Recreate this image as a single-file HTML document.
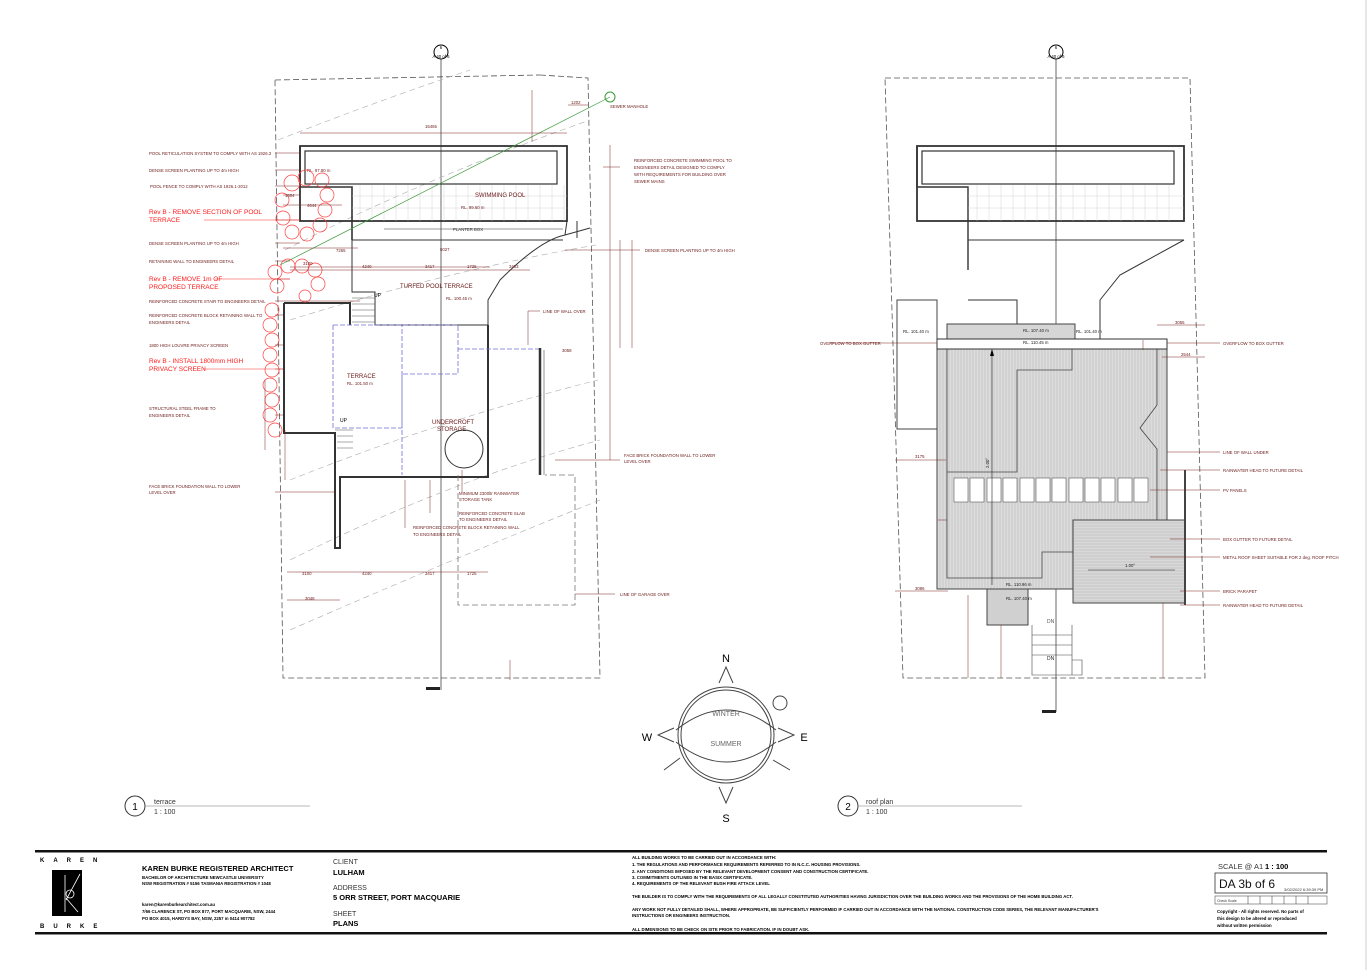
<!DOCTYPE html>
<html><head><meta charset="utf-8"><style>
html,body{margin:0;padding:0;background:#fff}
svg{display:block;font-family:"Liberation Sans",Arial,sans-serif}
.l{font-size:4.3px;fill:#6b1a1a}
.r{font-size:6.5px;fill:#ff1a1a}
.d{font-size:4.3px;fill:#6b1a1a}
.b{font-weight:bold;fill:#000}
</style></head><body>
<svg width="1372" height="970" viewBox="0 0 1372 970" xmlns="http://www.w3.org/2000/svg">
<defs>
 <pattern id="vh" width="3" height="6" patternUnits="userSpaceOnUse"><rect width="3" height="6" fill="#dcdcdc"/><line x1="1" y1="0" x2="1" y2="6" stroke="#bdbdbd" stroke-width="0.6"/></pattern>
 <pattern id="hh" width="6" height="3" patternUnits="userSpaceOnUse"><rect width="6" height="3" fill="#d8d8d8"/><line x1="0" y1="1" x2="6" y2="1" stroke="#bbb" stroke-width="0.6"/></pattern>
</defs>
<rect width="1372" height="970" fill="#fff"/>
<line x1="1366" y1="0" x2="1366" y2="970" stroke="#ccc"/>

<!-- ===== LEFT PLAN ===== -->
<g fill="none" stroke="#555" stroke-width="0.8">
 <polyline points="275,80 540,75" stroke-dasharray="6,3"/>
 <polyline points="540,75 588,78 600,678 283,678 275,80" stroke-dasharray="6,3"/>
</g>
<line x1="441" y1="45" x2="441" y2="690" stroke="#444" stroke-width="0.8"/>
<rect x="426" y="687" width="14" height="3" fill="#222"/>
<circle cx="441" cy="52" r="7" fill="#fff" stroke="#000"/>
<text x="441" y="49" class="d" text-anchor="middle" style="fill:#000">6</text>
<text x="441" y="58" class="d" text-anchor="middle" style="fill:#000">A 40 of 6</text>
<g fill="none" stroke="#aaa" stroke-width="0.6" stroke-dasharray="6,4">
 <path d="M278,140 Q380,100 470,70"/><path d="M285,250 Q420,180 590,120"/>
 <path d="M290,320 Q450,270 596,245"/><path d="M290,480 Q440,420 598,380"/>
 <path d="M290,560 Q450,480 600,440"/><path d="M290,630 Q450,560 600,500"/>
</g>
<g stroke="#333" fill="none">
 <rect x="300" y="146" width="267" height="75" stroke-width="1.8"/>
 <rect x="305" y="151" width="252" height="33" stroke-width="1.2"/>
 <path d="M300,146 V187 H352 V240" stroke-width="1.6"/>
</g>
<g stroke="#ccc" stroke-width="0.4">
 <path d="M360,185V221M372,185V221M384,185V221M396,185V221M408,185V221M420,185V221M432,185V221M444,185V221M456,185V221M468,185V221M480,185V221M492,185V221M504,185V221M516,185V221M528,185V221M540,185V221M552,185V221M564,185V221"/>
 <path d="M352,196H567M352,208H567"/>
</g>
<text x="475" y="197" class="d" style="font-size:6px">SWIMMING POOL</text>
<text x="461" y="209" class="d">RL. 99.60 m</text>
<text x="307" y="172" class="d">RL. 97.80 m</text>
<line x1="384" y1="229" x2="563" y2="229" stroke="#333" stroke-width="0.6"/>
<text x="453" y="231" class="d" style="fill:#333">PLANTER BOX</text>
<g stroke="#333" fill="none" stroke-width="1">
 <path d="M352,240 V292 H375 V325 H488 V300 L500,280 Q540,240 565,235 L567,221 M577,221 V238 M565,235 L590,228"/>
 <path d="M352,240 H563"/>
 <path d="M284,303 H350 V325 M284,303 V433 H335 V548 H340 V477 H488 V325" stroke-width="2"/>
 <path d="M488,325 V477"/>
</g>
<g stroke="#555" stroke-width="0.5"><path d="M352,298H375M352,304H375M352,310H375M352,316H375M352,322H375M335,430H353M337,436H353M337,442H353M337,448H353"/></g>
<text x="400" y="288" class="d" style="font-size:6px">TURFED POOL TERRACE</text>
<text x="446" y="300" class="d">RL. 100.45 m</text>
<text x="374" y="297" class="d" style="fill:#000;font-size:5px">UP</text>
<text x="340" y="422" class="d" style="fill:#000;font-size:5px">UP</text>
<text x="347" y="378" class="d" style="font-size:6px">TERRACE</text>
<text x="347" y="385" class="d">RL. 101.50 m</text>
<text x="432" y="424" class="d" style="font-size:6px">UNDERCROFT</text>
<text x="437" y="431" class="d" style="font-size:6px">STORAGE</text>
<circle cx="464" cy="449" r="19" fill="none" stroke="#333"/>
<g fill="none" stroke="#6c6cd8" stroke-width="0.8" stroke-dasharray="5,2">
 <path d="M333,325 H458 V374 H402 M333,325 V428 H402 V325 M458,349 H540 M402,374 V475"/>
</g>
<path d="M540,348 V475" stroke="#333" stroke-width="2.5"/>
<path d="M544,350 V475" stroke="#777" stroke-width="0.8"/>
<path d="M458,475 V605 H575 V475 H545" fill="none" stroke="#777" stroke-dasharray="6,3" stroke-width="0.8"/>
<line x1="280" y1="265" x2="610" y2="97" stroke="#3a9a3a" stroke-width="0.7"/>
<circle cx="610" cy="97" r="5" fill="none" stroke="#3a9a3a"/>
<text x="610" y="108" class="l">SEWER MANHOLE</text>
<!-- hedge bubbles -->
<g fill="none" stroke="#ff4040" stroke-width="0.7">
 <circle cx="292" cy="183" r="8"/><circle cx="306" cy="178" r="8"/><circle cx="322" cy="180" r="7"/><circle cx="327" cy="195" r="7"/><circle cx="325" cy="210" r="7"/><circle cx="320" cy="225" r="7"/><circle cx="307" cy="234" r="7"/><circle cx="292" cy="232" r="7"/><circle cx="283" cy="218" r="7"/><circle cx="282" cy="200" r="7"/>
 <circle cx="275" cy="272" r="7"/><circle cx="288" cy="266" r="7"/><circle cx="302" cy="266" r="7"/><circle cx="315" cy="270" r="7"/><circle cx="318" cy="284" r="7"/><circle cx="305" cy="296" r="6"/><circle cx="277" cy="286" r="7"/>
 <circle cx="272" cy="310" r="7"/><circle cx="270" cy="325" r="7"/><circle cx="272" cy="340" r="7"/><circle cx="270" cy="355" r="7"/><circle cx="272" cy="370" r="7"/><circle cx="270" cy="385" r="7"/><circle cx="272" cy="400" r="7"/><circle cx="270" cy="415" r="7"/><circle cx="275" cy="430" r="7"/>
</g>
<g stroke="#7a2424" stroke-width="0.5" fill="none">
 <path d="M300,133H567M290,267H490M290,270H530M283,248H358M283,205H342M283,195H300M610,145V460M620,240V348M632,240V348M287,572H488M287,600H340M532,90V142M568,105H588M510,660V680M285,430V480M265,380V450"/>
 <path d="M275,153H300M275,170H300M275,186H300M275,220H300M275,243H300M275,261H290M275,279H290M275,301H360M275,315H283M275,345H283M275,369H283M275,415H283M275,492H335M603,167H620M565,250H640M528,311V345M528,311H540M405,480V528M462,470V493M430,480V513M575,594H615M555,460H620"/>
</g>
<g class="d">
 <text x="425" y="128">15465</text><text x="303" y="265">3100</text><text x="362" y="268">4240</text><text x="425" y="268">3417</text><text x="467" y="268">1725</text><text x="509" y="268">3463</text>
 <text x="336" y="252">7265</text><text x="440" y="251">5027</text><text x="307" y="207">4644</text><text x="285" y="197">1504</text>
 <text x="302" y="575">3100</text><text x="362" y="575">4240</text><text x="425" y="575">3417</text><text x="467" y="575">1725</text><text x="305" y="600">3048</text><text x="562" y="352">3058</text><text x="571" y="104">1202</text>
</g>
<g class="l">
 <text x="149" y="155">POOL RETICULATION SYSTEM TO COMPLY WITH AS 1926.3</text>
 <text x="149" y="172">DENSE SCREEN PLANTING UP TO 4m HIGH</text>
 <text x="150" y="188">POOL FENCE TO COMPLY WITH AS 1926.1-2012</text>
 <text x="149" y="245">DENSE SCREEN PLANTING UP TO 4m HIGH</text>
 <text x="149" y="263">RETAINING WALL TO ENGINEERS DETAIL</text>
 <text x="149" y="303">REINFORCED CONCRETE STAIR TO ENGINEERS DETAIL</text>
 <text x="149" y="317">REINFORCED CONCRETE BLOCK RETAINING WALL TO</text>
 <text x="149" y="324">ENGINEERS DETAIL</text>
 <text x="149" y="347">1800 HIGH LOUVRE PRIVACY SCREEN</text>
 <text x="149" y="410">STRUCTURAL STEEL FRAME TO</text>
 <text x="149" y="417">ENGINEERS DETAIL</text>
 <text x="149" y="488">FACE BRICK FOUNDATION WALL TO LOWER</text>
 <text x="149" y="494">LEVEL OVER</text>
 <text x="634" y="162">REINFORCED CONCRETE SWIMMING POOL TO</text>
 <text x="634" y="169">ENGINEERS DETAIL DESIGNED TO COMPLY</text>
 <text x="634" y="176">WITH REQUIREMENTS FOR BUILDING OVER</text>
 <text x="634" y="183">SEWER MAINS</text>
 <text x="645" y="252">DENSE SCREEN PLANTING UP TO 4m HIGH</text>
 <text x="543" y="313">LINE OF WALL OVER</text>
 <text x="624" y="457">FACE BRICK FOUNDATION WALL TO LOWER</text>
 <text x="624" y="463">LEVEL OVER</text>
 <text x="459" y="495">MINIMUM 2300ltr RAINWATER</text>
 <text x="459" y="501">STORAGE TANK</text>
 <text x="459" y="515">REINFORCED CONCRETE SLAB</text>
 <text x="459" y="521">TO ENGINEERS DETAIL</text>
 <text x="413" y="529">REINFORCED CONCRETE BLOCK RETAINING WALL</text>
 <text x="413" y="536">TO ENGINEERS DETAIL</text>
 <text x="620" y="596">LINE OF GARAGE OVER</text>
</g>
<g class="r">
 <text x="149" y="214">Rev B - REMOVE SECTION OF POOL</text>
 <text x="149" y="222">TERRACE</text>
 <text x="149" y="281">Rev B - REMOVE 1m  OF</text>
 <text x="149" y="289">PROPOSED TERRACE</text>
 <text x="149" y="363">Rev B - INSTALL 1800mm HIGH</text>
 <text x="149" y="371">PRIVACY SCREEN</text>
</g>
<g stroke="#ff3030" stroke-width="0.6"><path d="M204,220H300M215,279H290M203,369H283"/></g>

<!-- ===== RIGHT PLAN ===== -->
<g fill="none" stroke="#555" stroke-width="0.8" stroke-dasharray="6,3">
 <polyline points="885,78 1190,78 1205,678 903,678 885,78"/>
</g>
<line x1="1056" y1="45" x2="1056" y2="712" stroke="#444" stroke-width="0.8"/>
<rect x="1042" y="710" width="14" height="3" fill="#222"/>
<circle cx="1056" cy="52" r="7" fill="#fff" stroke="#000"/>
<text x="1056" y="49" class="d" text-anchor="middle" style="fill:#000">6</text>
<text x="1056" y="58" class="d" text-anchor="middle" style="fill:#000">A 40 of 6</text>
<g stroke="#333" fill="none">
 <rect x="917" y="146" width="267" height="75" stroke-width="1.8"/>
 <rect x="922" y="151" width="252" height="33" stroke-width="1.2"/>
 <path d="M917,146 V187 H968 V270" stroke-width="1.4"/>
 <path d="M968,240 H1184 M1100,300 L1120,275 L1184,240 M1100,300 V345"/>
 <path d="M968,300 H1017 V324"/>
</g>
<g stroke="#ccc" stroke-width="0.4">
 <path d="M977,185V221M989,185V221M1001,185V221M1013,185V221M1025,185V221M1037,185V221M1049,185V221M1061,185V221M1073,185V221M1085,185V221M1097,185V221M1109,185V221M1121,185V221M1133,185V221M1145,185V221M1157,185V221M1169,185V221"/>
 <path d="M968,196H1184M968,208H1184"/>
</g>
<rect x="897" y="300" width="40" height="129" fill="#fff" stroke="#444"/>
<rect x="947" y="324" width="128" height="15" fill="#d6d6d6" stroke="#444"/>
<rect x="937" y="339" width="230" height="250" fill="url(#vh)" stroke="#444"/>
<rect x="1073" y="520" width="112" height="83" fill="url(#hh)" stroke="#444"/>
<rect x="937" y="339" width="230" height="10" fill="#fff" stroke="#333"/>
<rect x="987" y="589" width="41" height="36" fill="#d0d0d0" stroke="#444"/>
<path d="M947,349 V578 H1042 V552 H1073 V520 H1157 V449 L1140,428 L1157,405 V349 M1072,349 V370 H1017 V472 H947" fill="none" stroke="#444" stroke-width="0.8"/>
<path d="M1185,470 V605" stroke="#444" stroke-width="2"/>
<g fill="#fff" stroke="#555" stroke-width="0.6">
 <rect x="954" y="478" width="14" height="24"/><rect x="970" y="478" width="14" height="24"/><rect x="987" y="478" width="14" height="24"/><rect x="1003" y="478" width="14" height="24"/><rect x="1020" y="478" width="14" height="24"/><rect x="1036" y="478" width="14" height="24"/><rect x="1052" y="478" width="14" height="24"/><rect x="1069" y="478" width="14" height="24"/><rect x="1085" y="478" width="14" height="24"/><rect x="1101" y="478" width="14" height="24"/><rect x="1118" y="478" width="14" height="24"/><rect x="1134" y="478" width="14" height="24"/>
</g>
<line x1="992" y1="585" x2="992" y2="350" stroke="#222" stroke-width="0.6"/>
<path d="M990,356 L992,349 L994,356z"/>
<text x="989" y="468" class="d" style="fill:#222" transform="rotate(-90 989 468)">2.00°</text>
<line x1="1088" y1="570" x2="1175" y2="570" stroke="#222" stroke-width="0.6"/>
<text x="1125" y="567" class="d" style="fill:#222">1.00°</text>
<text x="1023" y="332" class="d" style="fill:#222">RL. 107.40 m</text>
<text x="1023" y="344" class="d" style="fill:#222">RL. 110.45 m</text>
<text x="903" y="333" class="d" style="fill:#222">RL. 101.40 m</text>
<text x="1076" y="333" class="d" style="fill:#222">RL. 101.40 m</text>
<text x="1006" y="586" class="d" style="fill:#222">RL. 110.96 m</text>
<text x="1006" y="600" class="d" style="fill:#222">RL. 107.40 m</text>
<text x="1047" y="623" class="d" style="fill:#555;font-size:5px">DN</text>
<text x="1047" y="660" class="d" style="fill:#222;font-size:5px">DN</text>
<g stroke="#444" fill="none" stroke-width="0.6"><path d="M1032,625 V675 H1072 V625 M1032,635H1072M1032,645H1072M1032,655H1072M1072,660H1082V675H1072"/></g>
<g stroke="#7a2424" stroke-width="0.5" fill="none">
 <path d="M895,460H946M895,591H948M1157,325H1205M1162,357H1205M968,595V678M1001,625V678M1163,603V678M938,520H947M1143,340V350"/>
 <path d="M830,343H937M1167,343H1220M1167,452H1220M1160,470H1220M1150,490H1220M1170,539H1220M1150,557H1220M1180,591H1220M1180,605H1220"/>
</g>
<g class="d"><text x="915" y="458">3175</text><text x="915" y="590">3086</text><text x="1175" y="324">3055</text><text x="1181" y="356">2544</text></g>
<g class="l">
 <text x="820" y="345">OVERFLOW TO BOX GUTTER</text>
 <text x="1223" y="345">OVERFLOW TO BOX GUTTER</text>
 <text x="1223" y="454">LINE OF WALL UNDER</text>
 <text x="1223" y="472">RAINWATER HEAD TO FUTURE DETAIL</text>
 <text x="1223" y="492">PV PANELS</text>
 <text x="1223" y="541">BOX GUTTER TO FUTURE DETAIL</text>
 <text x="1223" y="559">METAL ROOF SHEET SUITABLE FOR 2 deg. ROOF PITCH</text>
 <text x="1223" y="593">BRICK PARAPET</text>
 <text x="1223" y="607">RAINWATER HEAD TO FUTURE DETAIL</text>
</g>

<!-- compass -->
<g fill="none" stroke="#444" stroke-width="1">
 <circle cx="726" cy="735" r="48"/><circle cx="726" cy="735" r="45"/>
 <path d="M676,730 Q726,690 776,730 M676,742 Q726,782 776,742"/>
 <path d="M719,683 L726,667 L733,683 M719,787 L726,803 L733,787 M674,728 L658,735 L674,742 M778,728 L794,735 L778,742"/>
 <circle cx="780" cy="703" r="7"/><path d="M773,760 L790,770 M664,770 L680,758"/>
</g>
<text x="726" y="662" text-anchor="middle" style="font-size:11px">N</text>
<text x="726" y="822" text-anchor="middle" style="font-size:11px">S</text>
<text x="647" y="741" text-anchor="middle" style="font-size:11px">W</text>
<text x="804" y="741" text-anchor="middle" style="font-size:11px">E</text>
<text x="726" y="716" text-anchor="middle" style="font-size:7px;fill:#666">WINTER</text>
<text x="726" y="746" text-anchor="middle" style="font-size:7px;fill:#666">SUMMER</text>

<circle cx="135" cy="806" r="10" fill="none" stroke="#333"/>
<text x="135" y="810" text-anchor="middle" style="font-size:10px">1</text>
<text x="154" y="804" style="font-size:7px;fill:#333">terrace</text>
<line x1="146" y1="806" x2="310" y2="806" stroke="#777" stroke-width="0.6"/>
<text x="154" y="814" style="font-size:7px;fill:#333">1 : 100</text>
<circle cx="848" cy="806" r="10" fill="none" stroke="#333"/>
<text x="848" y="810" text-anchor="middle" style="font-size:10px">2</text>
<text x="866" y="804" style="font-size:7px;fill:#333">roof plan</text>
<line x1="859" y1="806" x2="1022" y2="806" stroke="#777" stroke-width="0.6"/>
<text x="866" y="814" style="font-size:7px;fill:#333">1 : 100</text>

<rect x="35" y="850" width="1292" height="2.5" fill="#111"/>
<rect x="35" y="932" width="1292" height="2.5" fill="#111"/>
<text x="40" y="862" class="b" style="font-size:6px;letter-spacing:9px">KAREN</text>
<text x="40" y="928" class="b" style="font-size:6px;letter-spacing:9px">BURKE</text>
<rect x="52" y="870" width="30" height="46" fill="#000"/>
<path d="M65,875 V912 M66,900 L80,874 M66,898 L78,912" stroke="#fff" stroke-width="0.8"/>
<circle cx="70" cy="894" r="4" fill="none" stroke="#fff" stroke-width="0.8"/>
<text x="142" y="871" class="b" style="font-size:7.5px">KAREN BURKE   REGISTERED ARCHITECT</text>
<text x="142" y="879" class="b" style="font-size:4.3px">BACHELOR OF ARCHITECTURE     NEWCASTLE UNIVERSITY</text>
<text x="142" y="885" class="b" style="font-size:4.3px">NSW REGISTRATION # 5156  TASMANIA REGISTRATION # 1048</text>
<text x="142" y="906" class="b" style="font-size:4.3px">karen@karenburkearchitect.com.au</text>
<text x="142" y="913" class="b" style="font-size:4.3px">7/66 CLARENCE ST,  PO BOX 877, PORT MACQUARIE, NSW, 2444</text>
<text x="142" y="920" class="b" style="font-size:4.3px">PO BOX 4015, HARDYS BAY, NSW, 2257               m 0414 907782</text>
<text x="333" y="864" style="font-size:7px;fill:#333">CLIENT</text>
<text x="333" y="875" class="b" style="font-size:7.5px">LULHAM</text>
<text x="333" y="890" style="font-size:7px;fill:#333">ADDRESS</text>
<text x="333" y="900" class="b" style="font-size:7.5px">5 ORR STREET, PORT MACQUARIE</text>
<text x="333" y="916" style="font-size:7px;fill:#333">SHEET</text>
<text x="333" y="926" class="b" style="font-size:7.5px">PLANS</text>
<g class="b" style="font-size:4.3px">
 <text x="632" y="859">ALL BUILDING WORKS TO BE CARRIED OUT IN ACCORDANCE WITH:</text>
 <text x="632" y="866">1.         THE REGULATIONS AND PERFORMANCE REQUIREMENTS REFERRED TO IN N.C.C. HOUSING PROVISIONS.</text>
 <text x="632" y="873">2.         ANY CONDITIONS IMPOSED BY THE RELEVANT DEVELOPMENT CONSENT AND CONSTRUCTION CERTIFICATE.</text>
 <text x="632" y="879">3.         COMMITMENTS OUTLINED IN THE BASIX CERTIFICATE.</text>
 <text x="632" y="885">4.         REQUIREMENTS OF THE RELEVANT BUSH FIRE ATTACK LEVEL</text>
 <text x="632" y="898">THE BUILDER IS TO COMPLY WITH THE REQUIREMENTS OF ALL LEGALLY CONSTITUTED AUTHORITIES HAVING JURISDICTION OVER THE BUILDING WORKS AND THE PROVISIONS OF THE HOME BUILDING ACT.</text>
 <text x="632" y="911">ANY WORK NOT FULLY DETAILED SHALL, WHERE APPROPRIATE, BE SUFFICIENTLY PERFORMED  IF CARRIED OUT IN ACCORDANCE WITH THE NATIONAL CONSTRUCTION CODE SERIES, THE RELEVANT MANUFACTURER'S</text>
 <text x="632" y="917">INSTRUCTIONS OR ENGINEERS INSTRUCTION.</text>
 <text x="632" y="931">ALL DIMENSIONS TO BE CHECK ON SITE PRIOR TO FABRICATION. IF IN DOUBT ASK.</text>
</g>
<text x="1218" y="869" style="font-size:7.5px;fill:#333">SCALE @ A1</text>
<text x="1265" y="869" class="b" style="font-size:7.5px">1 : 100</text>
<rect x="1215" y="873" width="112" height="20" fill="none" stroke="#333" stroke-width="0.8"/>
<text x="1219" y="888" style="font-size:12px;fill:#111">DA 3b of 6</text>
<text x="1284" y="891" style="font-size:4px;fill:#333">3/02/2022 6:39:39 PM</text>
<rect x="1215" y="896" width="112" height="8" fill="none" stroke="#333" stroke-width="0.5"/>
<path d="M1248,896V904M1260,896V904M1272,896V904M1284,896V904M1296,896V904M1308,896V904" stroke="#333" stroke-width="0.5"/>
<text x="1217" y="902" style="font-size:3.5px;fill:#333">Check Scale</text>
<g class="b" style="font-size:4.3px">
 <text x="1217" y="913">Copyright - All rights reserved. No parts of</text>
 <text x="1217" y="920">this design to be altered or reproduced</text>
 <text x="1217" y="927">without written permission</text>
</g>
</svg>
</body></html>
